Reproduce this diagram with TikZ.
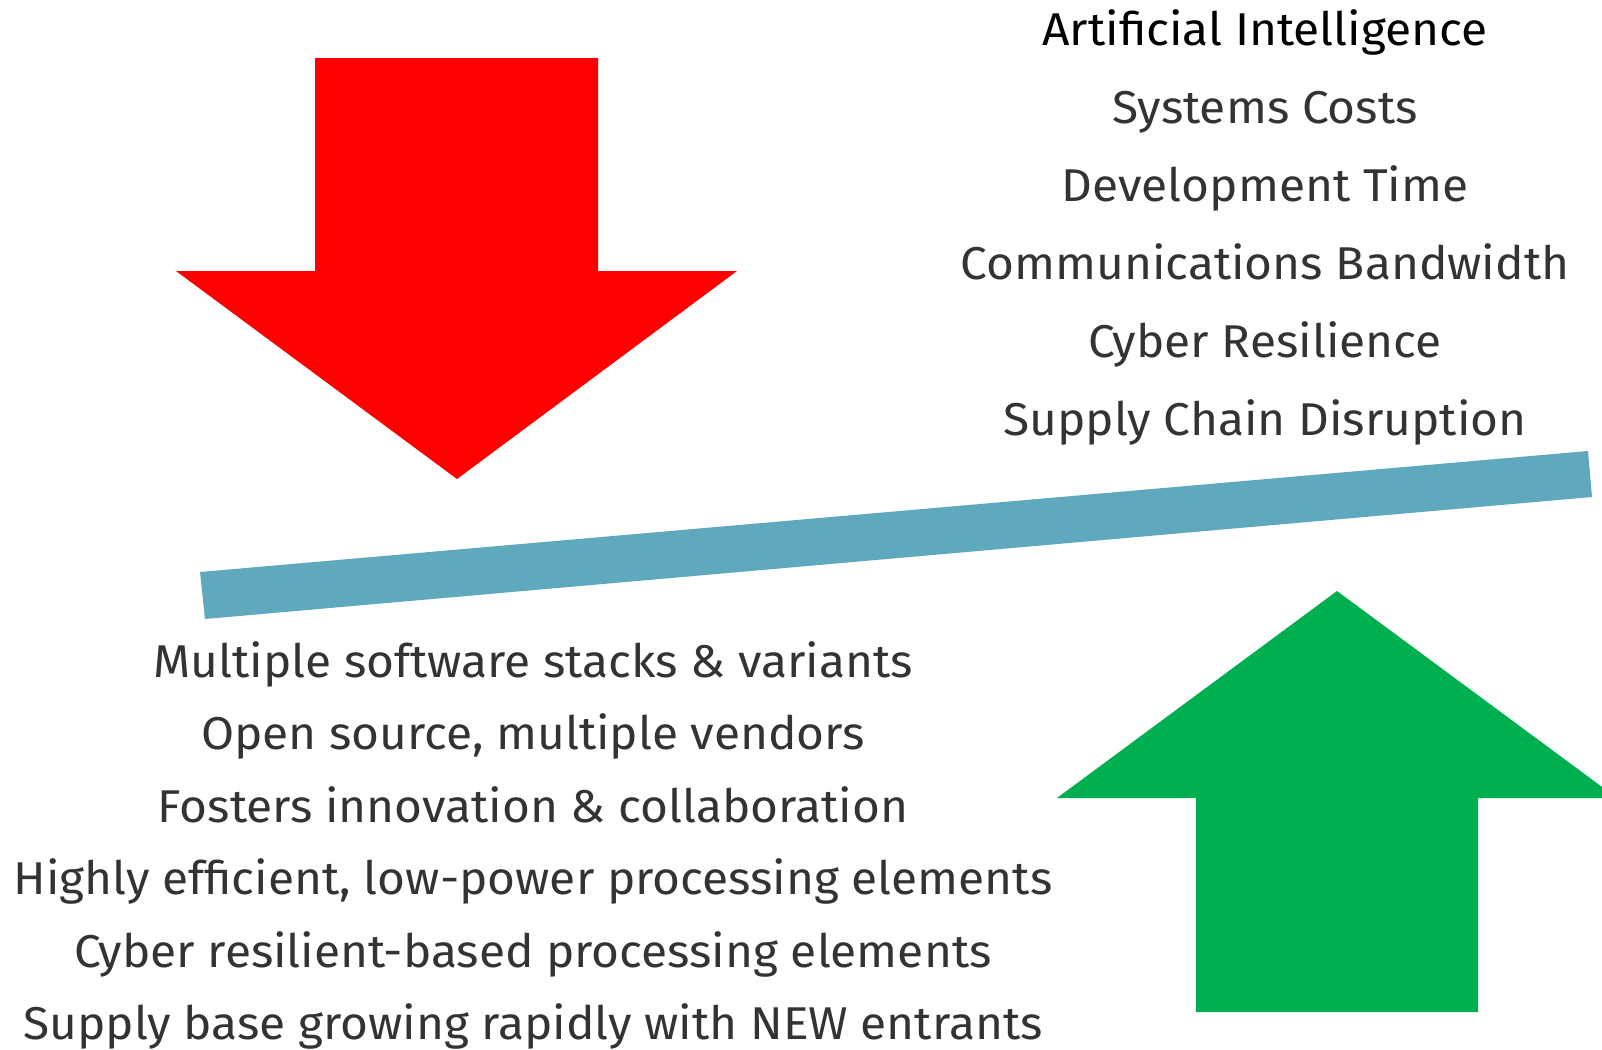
\documentclass[tikz,border=0pt]{standalone}
\usepackage{fontspec}
\setmainfont{Fira Sans}[FakeStretch=1.04]
\definecolor{downred}{HTML}{FF0000}
\definecolor{upgreen}{HTML}{00B050}
\definecolor{beam}{HTML}{5FA8BE}
\definecolor{txt}{HTML}{333333}
\begin{document}
\begin{tikzpicture}[x=0.5pt,y=-0.5pt,
  pressure/.style={anchor=base,font=\fontsize{23}{27}\selectfont,text=txt,inner sep=0pt},
  relief/.style={anchor=base,font=\fontsize{23}{27}\selectfont,text=txt,inner sep=0pt}]
\clip (0,0) rectangle (1602,1050);
\fill[white] (0,0) rectangle (1602,1050);
% downward pressure arrow
\fill[downred] (315,58) -- (598,58) -- (598,271) -- (737,271) -- (457,479)
  -- (176,271) -- (315,271) -- cycle;
% tilted balance beam
\fill[beam] (200,572) -- (1588,451) -- (1592,497) -- (205,619) -- cycle;
% upward relief arrow
\fill[upgreen] (1196,1012) -- (1196,798) -- (1057,798) -- (1337,591)
  -- (1617,798) -- (1478,798) -- (1478,1012) -- cycle;
% pressures
\node[pressure,text=black] (p1) at (1265,45.5) {Artificial Intelligence};
\node[pressure] (p2) at (1265,123.5) {Systems Costs};
\node[pressure] (p3) at (1265,201.5) {Development Time};
\node[pressure] (p4) at (1265,279.5) {Communications Bandwidth};
\node[pressure] (p5) at (1265,357.5) {Cyber Resilience};
\node[pressure] (p6) at (1265,435.5) {Supply Chain Disruption};
% reliefs
\node[relief] (r1) at (533,677) {Multiple software stacks \& variants};
\node[relief] (r2) at (533,749.5) {Open source, multiple vendors};
\node[relief] (r3) at (533,822) {Fosters innovation \& collaboration};
\node[relief] (r4) at (533,894.5) {Highly efficient, low-power processing elements};
\node[relief] (r5) at (533,967) {Cyber resilient-based processing elements};
\node[relief] (r6) at (533,1039.5) {Supply base growing rapidly with NEW entrants};
\end{tikzpicture}
\end{document}
